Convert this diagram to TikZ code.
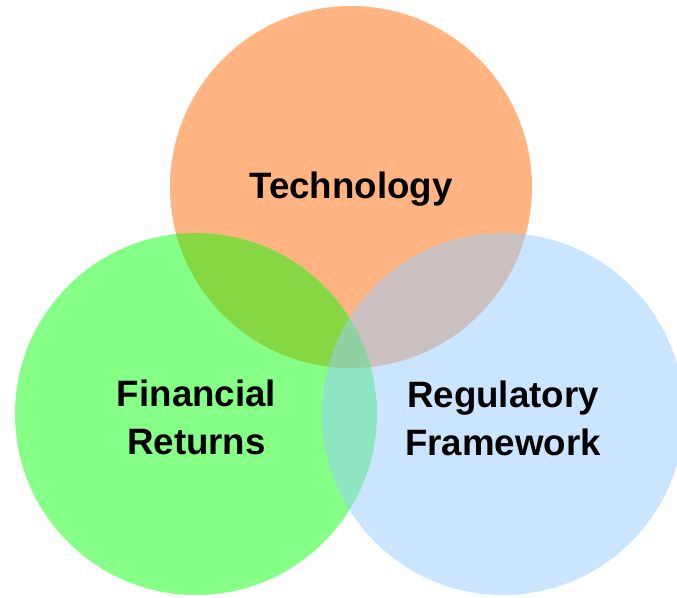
\documentclass[tikz,border=0pt]{standalone}
\usepackage{fontspec}
\setmainfont{Liberation Sans}
\usetikzlibrary{positioning}
\definecolor{techorange}{RGB}{255,180,130}
\definecolor{fingreen}{RGB}{0,255,0}
\definecolor{regblue}{RGB}{153,204,255}
\tikzset{
	venn/.style={circle, inner sep=0pt, minimum size=362pt},
	techset/.style={venn, fill=techorange},
	finset/.style={venn, fill=fingreen, fill opacity=0.48},
	regset/.style={venn, fill=regblue, fill opacity=0.5},
	% text inside the circles
	topic/.style={anchor=base, align=center, inner sep=0pt, font=\bfseries\fontsize{36.7}{48}\selectfont},
}
\begin{document}
\begin{tikzpicture}[x=1pt, y=-1pt]
				\useasboundingbox (0,0) rectangle (677,597);
				
				\node (tech) [techset] at (351,187) {};
				\node (fin) [finset] at (196,414) {};
				\node (reg) [regset] at (503,414) {};
				
				\node (techtext) [topic] at (351,198) {Technology};
				\node (fintext) [topic] at (196.5,454.5) {Financial\\Returns};
				\node (regtext) [topic] at (503,455.5) {Regulatory\\Framework};
				
			\end{tikzpicture}
\end{document}
